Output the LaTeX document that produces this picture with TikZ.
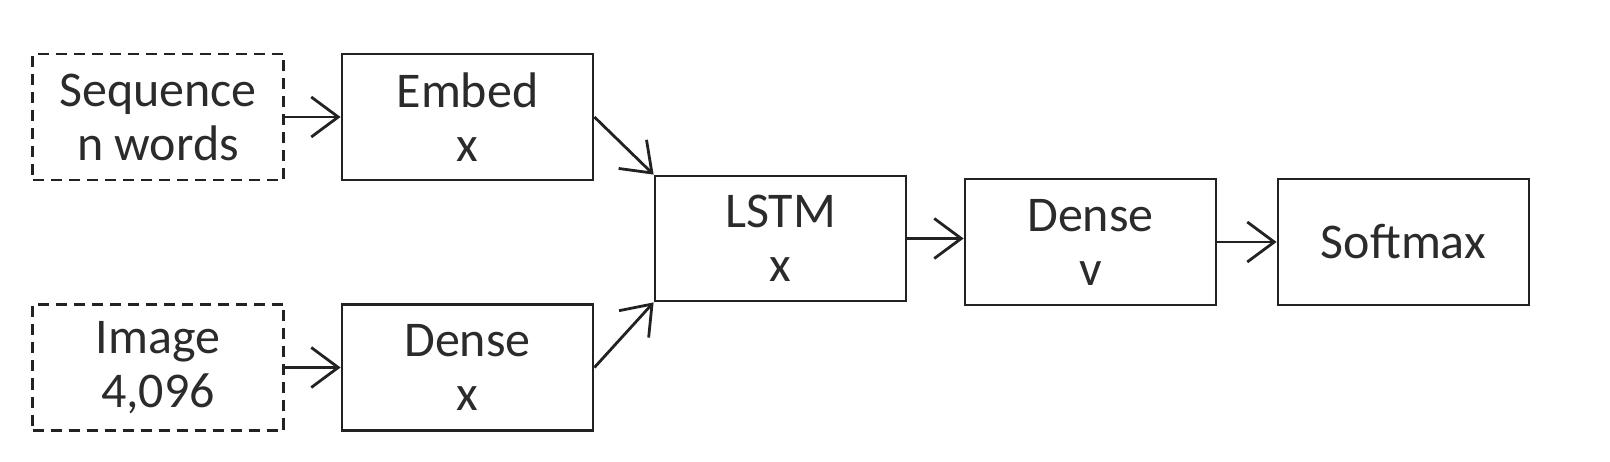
\documentclass[tikz,border=0pt]{standalone}
\usepackage{fontspec}
\setmainfont{Carlito}
\usetikzlibrary{arrows.meta}
\definecolor{txt}{HTML}{2B2B2B}
\definecolor{ln}{HTML}{222222}
\tikzset{
  blk/.style={draw=ln, line width=2.8pt, minimum width=251pt, minimum height=126pt,
    inner sep=0pt, align=center, text=txt, font=\fontsize{50}{54}\selectfont},
  inbox/.style={blk, dash pattern=on 11pt off 7pt},
  conn/.style={draw=ln, line width=2.8pt, -{Straight Barb[length=27pt,width=40pt,line width=2.8pt]}}
}
\begin{document}
\begin{tikzpicture}[x=1pt,y=-1pt]
\useasboundingbox (0,0) rectangle (1610,462);
\node[inbox] (seq) at (158,117) {Sequence\\n words};
\node[blk] (emb) at (467.5,117) {Embed\\x};
\node[inbox] (img) at (158,367.5) {Image\\4,096};
\node[blk] (dx) at (467.5,367.5) {Dense\\x};
\node[blk, minimum height=125pt] (lstm) at (780.5,238.5) {LSTM\\x};
\node[blk] (dv) at (1090.5,242) {Dense\\v};
\node[blk] (sm) at (1403.5,242) {Softmax};
\draw[conn] (seq.east) -- (emb.west);
\draw[conn] (img.east) -- (dx.west);
\draw[conn] (emb.east) -- (lstm.north west);
\draw[conn] (dx.east) -- (lstm.south west);
\draw[conn] (lstm.east) -- (lstm.east -| dv.west);
\draw[conn] (dv.east) -- (sm.west);
\end{tikzpicture}
\end{document}
